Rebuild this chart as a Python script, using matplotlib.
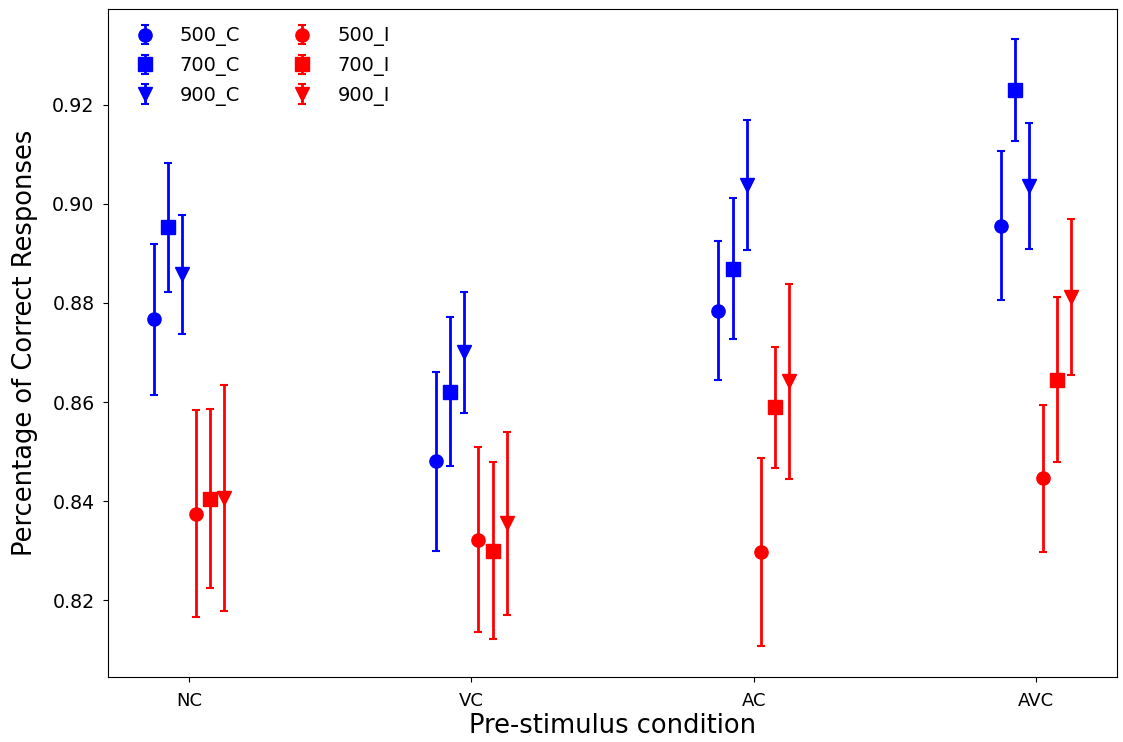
import numpy as np
from matplotlib import pyplot as plt

# conditions on the x axis
conditions = ['NC', 'VC', 'AC', 'AVC']

# mean proportion correct per condition (NC, VC, AC, AVC)
mean_500_c = [0.8767, 0.8480, 0.8784, 0.8956]
mean_700_c = [0.8953, 0.8621, 0.8869, 0.9229]
mean_900_c = [0.8858, 0.8700, 0.9038, 0.9036]
mean_500_i = [0.8375, 0.8322, 0.8297, 0.8446]
mean_700_i = [0.8405, 0.8300, 0.8589, 0.8645]
mean_900_i = [0.8407, 0.8355, 0.8642, 0.8812]

# error bar half widths
err_500_c = [0.0152, 0.0180, 0.0140, 0.0150]
err_700_c = [0.0130, 0.0150, 0.0142, 0.0103]
err_900_c = [0.0120, 0.0123, 0.0131, 0.0128]
err_500_i = [0.0208, 0.0187, 0.0190, 0.0148]
err_700_i = [0.0180, 0.0178, 0.0123, 0.0166]
err_900_i = [0.0228, 0.0185, 0.0197, 0.0158]

series = [
    ('500_C', mean_500_c, err_500_c, 'blue', 'o', -0.125),
    ('700_C', mean_700_c, err_700_c, 'blue', 's', -0.075),
    ('900_C', mean_900_c, err_900_c, 'blue', 'v', -0.025),
    ('500_I', mean_500_i, err_500_i, 'red', 'o', 0.025),
    ('700_I', mean_700_i, err_700_i, 'red', 's', 0.075),
    ('900_I', mean_900_i, err_900_i, 'red', 'v', 0.125),
]

fig = plt.figure(figsize=(11.23, 7.42), dpi=100)
ax = fig.add_axes([0.096, 0.088, 0.899, 0.900])

x = np.arange(len(conditions))
for name, means, errs, color, marker, offset in series:
    ax.errorbar(x + offset, means, yerr=errs, fmt=marker, color=color,
                ecolor=color, markersize=9.5, elinewidth=2, capsize=3.2,
                capthick=1.5, label=name)

# axis details
ax.set_xticks(x)
ax.set_xticklabels(conditions, fontsize=13)
ax.set_yticks([0.82, 0.84, 0.86, 0.88, 0.90, 0.92])
ax.tick_params(axis='y', labelsize=13.7, pad=6)
ax.tick_params(axis='x', pad=7.5)
ax.set_xlabel('Pre-stimulus condition', fontsize=18.5, labelpad=2)
ax.set_ylabel('Percentage of Correct Responses', fontsize=18.5, labelpad=10)
ax.legend(loc='upper left', ncol=2, frameon=False, fontsize=14,
          columnspacing=2.2)

fig.savefig('out.png', dpi=100)
